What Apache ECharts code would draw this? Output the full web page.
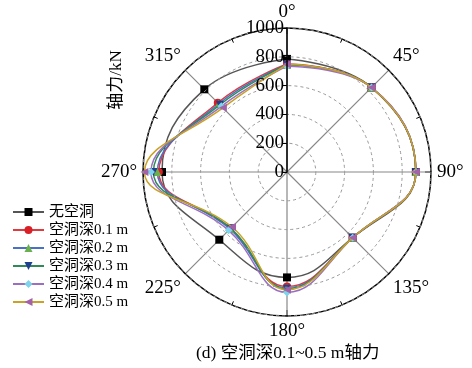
<!DOCTYPE html>
<html><head><meta charset="utf-8">
<script src="https://cdn.jsdelivr.net/npm/echarts@6/dist/echarts.min.js"></script>
<style>html,body{margin:0;padding:0;background:#fff}#c{width:472px;height:368px}</style>
</head><body><div id="c"></div>
<script>
const angles = [0, 45, 90, 135, 180, 225, 270, 315];
const radiusTicks = [0, 200, 400, 600, 800, 1000];
const seriesNames = ['无空洞', '空洞深0.1 m', '空洞深0.2 m', '空洞深0.3 m', '空洞深0.4 m', '空洞深0.5 m'];
const noVoid = [785, 830, 895, 645, 732, 665, 868, 812];
const depth01 = [750, 830, 895, 645, 795, 555, 890, 680];
const depth02 = [745, 830, 895, 645, 805, 560, 900, 670];
const depth03 = [745, 830, 895, 645, 810, 552, 928, 660];
const depth04 = [735, 830, 895, 645, 836, 573, 945, 645];
const depth05 = [748, 830, 895, 645, 818, 540, 990, 630];
const allValues = [noVoid, depth01, depth02, depth03, depth04, depth05];

const lineColors = ['#555555', '#e0393e', '#4a70c8', '#2e8b57', '#9b6fc0', '#c9a227'];
const markColors = ['#000000', '#d92027', '#6ab04c', '#1f3f8f', '#7fd3ea', '#a362a8'];
const markShapes = ['rect', 'circle', 'triangle', 'triangle', 'diamond', 'triangle'];
const markRotate = [0, 0, 0, 180, 0, 90];

const SERIF = "'Liberation Serif','Times New Roman','Noto Sans CJK SC',serif";

const chart = echarts.init(document.getElementById('c'), null, {renderer: 'canvas'});

const series = allValues.map((vals, i) => {
  const data = angles.map((a, k) => [vals[k], a]);
  data.push([vals[0], 360]);
  return {
    name: seriesNames[i],
    type: 'line',
    coordinateSystem: 'polar',
    data: data,
    smooth: 0.45,
    symbol: markShapes[i],
    symbolRotate: markRotate[i],
    symbolSize: 8,
    lineStyle: {color: lineColors[i], width: 1.5},
    itemStyle: {color: markColors[i]},
    z: 3 + i
  };
});

chart.setOption({
  animation: false,
  backgroundColor: '#fff',
  title: {
    text: '(d) 空洞深0.1~0.5 m轴力',
    left: 191, top: 340,
    textStyle: {fontSize: 17.5, fontWeight: 'normal', color: '#000', fontFamily: SERIF}
  },
  legend: {
    orient: 'vertical',
    left: 12, top: 203,
    itemWidth: 31, itemHeight: 10, itemGap: 0,
    padding: 0,
    data: seriesNames,
    textStyle: {fontSize: 15, lineHeight: 18, color: '#000', fontFamily: SERIF}
  },
  polar: {center: [287, 172], radius: 144},
  angleAxis: {
    type: 'value', min: 0, max: 360, interval: 45,
    startAngle: 90, clockwise: true,
    axisLine: {lineStyle: {color: '#000', width: 1.5}},
    axisTick: {show: true, inside: true, length: 6, lineStyle: {color: '#000'}},
    minorTick: {show: true, splitNumber: 2, length: 4, lineStyle: {color: '#000'}},
    axisLabel: {
      fontSize: 19, fontFamily: SERIF, color: '#000', margin: 6,
      formatter: v => (v >= 360 ? '' : v + '°')
    },
    splitLine: {show: true, lineStyle: {color: '#888', width: 1.2}}
  },
  radiusAxis: {
    min: 0, max: 1000, interval: 200,
    axisLine: {lineStyle: {color: '#000', width: 1.5}},
    axisTick: {show: true, length: 5, lineStyle: {color: '#000'}},
    axisLabel: {fontSize: 19, fontFamily: SERIF, color: '#000', margin: 3, formatter: v => String(v)},
    splitLine: {show: true, lineStyle: {color: '#999', type: [3, 3], width: 1}},
    z: 10
  },
  graphic: [{
    type: 'text',
    x: 117, y: 80,
    rotation: Math.PI / 2,
    style: {text: '轴力/kN', fontSize: 17, fontFamily: SERIF, fill: '#000', align: 'center', verticalAlign: 'middle'}
  }],
  series: series
});
</script></body></html>
